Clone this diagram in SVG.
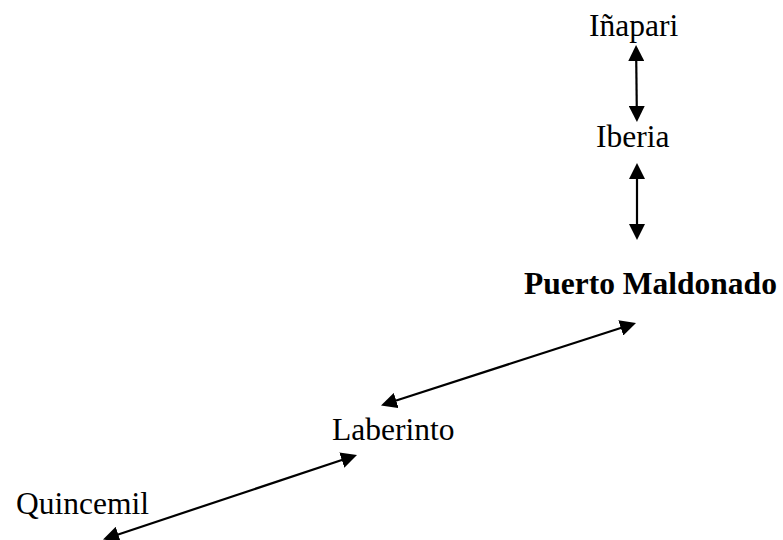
<svg xmlns="http://www.w3.org/2000/svg" width="783" height="540" viewBox="0 0 783 540">
  <style>
    .lbl { font-family: "Liberation Serif", "Times New Roman", serif; font-size: 31.5px; fill: #000; }
    .bold { font-weight: bold; }
    .conn { stroke: #000; stroke-width: 2.2; fill: none; marker-start: url(#ah); marker-end: url(#ah); }
  </style>
  <defs>
    <marker id="ah" viewBox="0 0 16 16" refX="4" refY="8" markerWidth="16" markerHeight="16" markerUnits="userSpaceOnUse" orient="auto-start-reverse">
      <path d="M0,0 L16,8 L0,16 z" fill="#000"/>
    </marker>
  </defs>
  <rect width="783" height="540" fill="#fff"/>
  <g id="connectors">
    <line class="conn" x1="636.2" y1="57" x2="636.8" y2="110"/>
    <line class="conn" x1="637" y1="175" x2="637" y2="228"/>
    <line class="conn" x1="392.4" y1="401.8" x2="624.6" y2="326.7"/>
    <line class="conn" x1="114.4" y1="535.7" x2="345.6" y2="458.8"/>
  </g>
  <g id="inapari"><text class="lbl" x="589" y="36">Iñapari</text></g>
  <g id="iberia"><text class="lbl" x="596" y="147">Iberia</text></g>
  <g id="puerto-maldonado"><text class="lbl bold" x="524" y="294">Puerto Maldonado</text></g>
  <g id="laberinto"><text class="lbl" x="332" y="440">Laberinto</text></g>
  <g id="quincemil"><text class="lbl" x="16" y="514">Quincemil</text></g>
</svg>
